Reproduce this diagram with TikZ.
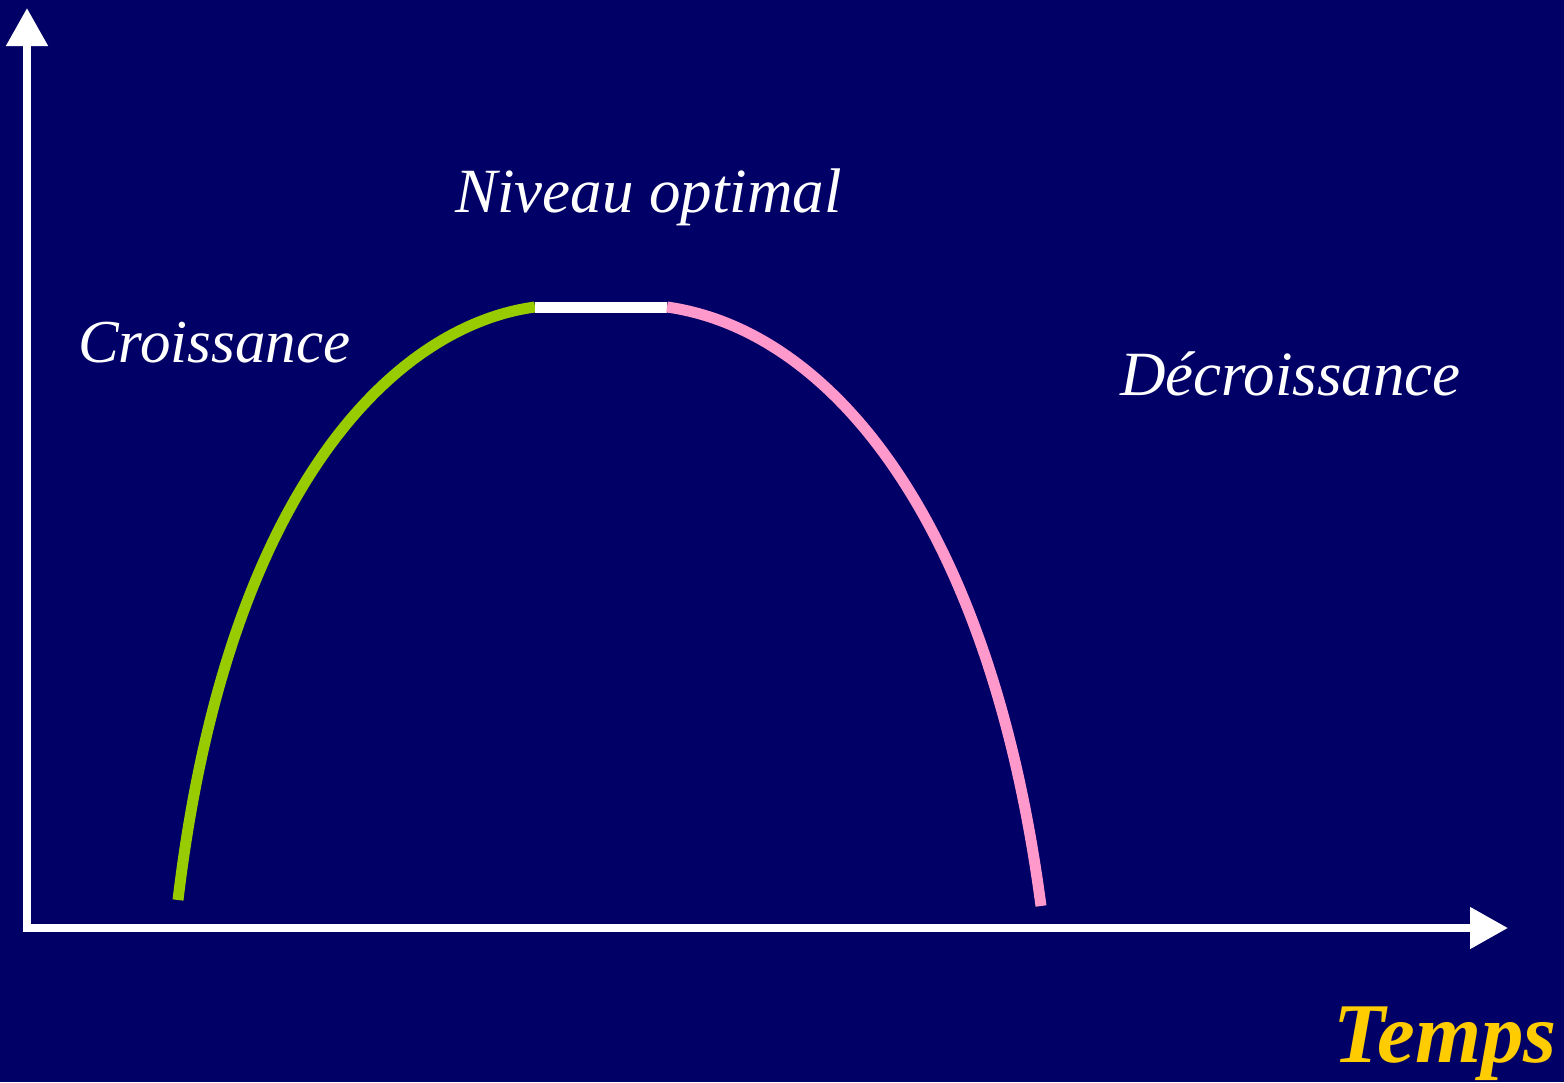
\documentclass[tikz,border=0pt]{standalone}
\usepackage{fontspec}
\setmainfont{Liberation Serif}
\usetikzlibrary{arrows.meta}
\definecolor{bgnavy}{RGB}{0,0,102}
\definecolor{upgreen}{RGB}{153,204,0}
\definecolor{downpink}{RGB}{255,153,204}
\definecolor{timeyellow}{RGB}{255,204,0}
\tikzset{
  axisline/.style={white, line width=8pt, -{Triangle[length=38pt,width=40pt]}},
  phase/.style={line width=11pt},
  lbl/.style={white, font=\fontsize{63}{75}\selectfont\itshape, anchor=base west, inner sep=0pt},
}
\begin{document}
\begin{tikzpicture}[x=1pt,y=-1pt]
\fill[bgnavy] (0,0) rectangle (1564,1082);
\useasboundingbox (0,0) rectangle (1564,1082);
\coordinate (origin) at (27,928);
\coordinate (ytip) at (27,8);
\coordinate (xtip) at (1508,928);
\draw[axisline] ([yshift=4pt]origin) -- (ytip);
\draw[axisline] ([xshift=-4pt]origin) -- (xtip);
\coordinate (s) at (178,900);
\coordinate (p1) at (535,307);
\coordinate (p2) at (667,307);
\coordinate (e) at (1041,906);
\draw[phase, upgreen] (s) .. controls (228,480) and (400,325) .. (p1);
\draw[phase, white] (p1) -- (p2);
\draw[phase, downpink] (p2) .. controls (830,330) and (990,520) .. (e);
\node[lbl] (niveau) at (455,212) {Niveau optimal};
\node[lbl, font=\fontsize{61}{73}\selectfont\itshape] (croiss) at (78,362) {Croissance};
\node[lbl] (decroiss) at (1120,395) {Décroissance};
\node[timeyellow, font=\fontsize{85}{97}\selectfont\bfseries\itshape, anchor=base west, inner sep=0pt] (temps) at (1333,1062) {Temps};
\end{tikzpicture}
\end{document}
